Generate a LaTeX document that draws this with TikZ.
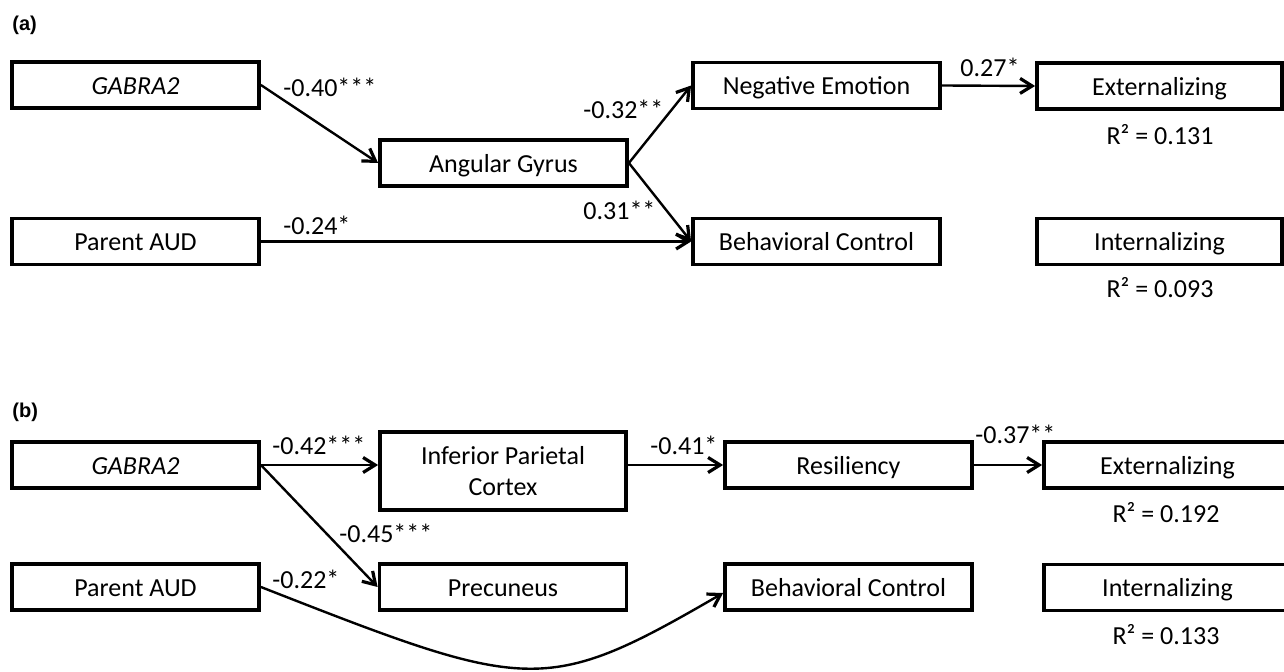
\documentclass[tikz,border=0pt]{standalone}
\usepackage{fontspec}
\setmainfont{Carlito}
\newfontfamily\panelfont{Liberation Sans}
\usetikzlibrary{arrows.meta,calc}
\begin{document}
\begin{tikzpicture}[x=0.5pt,y=-0.5pt,
  txt/.style={font=\fontsize{13}{15.5}\selectfont},
  box/.style={txt, draw, line width=1.9pt, minimum width=123.5pt, minimum height=23pt, inner sep=0pt, text height=11pt, text depth=1.5pt},
  tallbox/.style={txt, draw, line width=1.9pt, minimum width=123pt, minimum height=39pt, inner sep=0pt, align=center},
  lab/.style={txt, inner sep=0pt, anchor=west},
  rsq/.style={txt, inner sep=0pt},
  arr/.style={line width=1.2pt, -{Straight Barb[length=6pt,width=7.5pt,line width=1.6pt]}},
  panel/.style={font=\panelfont\bfseries\fontsize{10}{12}\selectfont, inner sep=0pt, anchor=west}]
\useasboundingbox (0,0) rectangle (1284,672);
\clip (0,0) rectangle (1284,672);

% ---------- panel (a) ----------
\node[panel] (pa) at (12,25) {(a)};
\node[box] (gA) at (135.5,85) {\itshape GABRA2};
\node[box] (agA) at (503.5,163) {Angular Gyrus};
\node[box] (neA) at (816.5,85.5) {Negative Emotion};
\node[box, minimum width=122.5pt] (exA) at (1159.5,86) {Externalizing};
\node[box] (paA) at (135.5,241.5) {Parent AUD};
\node[box] (bcA) at (816.5,241.5) {Behavioral Control};
\node[box, minimum width=122.5pt] (inA) at (1159.5,241.5) {Internalizing};
\node[rsq] (rA1) at (1160,135) {R² = 0.131};
\node[rsq] (rA2) at (1160,288) {R² = 0.093};

\draw[arr] (gA.east) -- (agA.west);
\draw[arr] (agA.east) -- (neA.west);
\draw[arr] (agA.east) -- (bcA.west);
\draw[arr] (paA.east) -- (bcA.west);
\draw[arr] (neA.east) -- (exA.west);

\node[lab] (l1) at (283,87) {-0.40***};
\node[lab] (l2) at (583,109) {-0.32**};
\node[lab] (l3) at (583,210) {0.31**};
\node[lab] (l4) at (283,225) {-0.24*};
\node[lab] (l5) at (960,67) {0.27*};

% ---------- panel (b) ----------
\node[panel] (pb) at (12,412) {(b)};
\node[box] (gB) at (135.5,465) {\itshape GABRA2};
\node[tallbox] (ipB) at (503,471) {Inferior Parietal\\Cortex};
\node[box] (prB) at (503,587) {Precuneus};
\node[box] (paB) at (135.5,587) {Parent AUD};
\node[box] (reB) at (848.5,465) {Resiliency};
\node[box] (bcB) at (848.5,587) {Behavioral Control};
\node[box] (exB) at (1167.5,465) {Externalizing};
\node[box] (inB) at (1167.5,587.5) {Internalizing};
\node[rsq] (rB1) at (1166,513) {R² = 0.192};
\node[rsq] (rB2) at (1166,635) {R² = 0.133};

\coordinate (c1) at (529,692);
\coordinate (c2) at (544,697);
\draw[arr] (gB.east) -- (gB.east -| ipB.west);
\draw[arr] (gB.east) -- (prB.west);
\draw[arr] (ipB.east |- reB.west) -- (reB.west);
\draw[arr] (reB.east) -- (exB.west);
\draw[arr] (paB.east) .. controls (c1) and (c2) .. ([yshift=-3pt]bcB.west);

\node[lab] (m1) at (272,445) {-0.42***};
\node[lab] (m2) at (650,445) {-0.41*};
\node[lab] (m3) at (975,434) {-0.37**};
\node[lab] (m4) at (339,533) {-0.45***};
\node[lab] (m5) at (272,579) {-0.22*};
\end{tikzpicture}
\end{document}
